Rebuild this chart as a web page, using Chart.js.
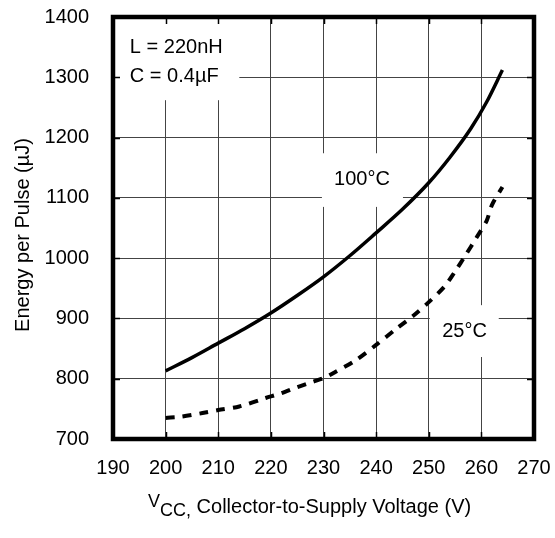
<!DOCTYPE html>
<html>
<head>
<meta charset="utf-8">
<script src="https://cdn.jsdelivr.net/npm/chart.js@4.4.1/dist/chart.umd.min.js"></script>
<style>
  html, body { margin: 0; padding: 0; background: #fff; }
  #wrap { width: 555px; height: 538px; }
</style>
</head>
<body>
<div id="wrap"><canvas id="energyChart" width="555" height="538"></canvas></div>
<script>
const FONT = "'Liberation Sans', Arial, Helvetica, sans-serif";

// energy per pulse at 100°C
const vcc100 = [200, 205, 210, 215, 220, 225, 230, 235, 240, 245, 250, 254, 258, 261, 264];
const energy100 = [813, 835, 859, 883, 909, 938, 969, 1004, 1042, 1081, 1125, 1167, 1215, 1259, 1312];

// energy per pulse at 25°C
const vcc25 = [200, 203, 207, 210, 214, 219, 222, 225, 228, 230, 232, 236, 240, 244, 247, 250, 253, 255, 257, 259, 261, 262, 264];
const energy25 = [735, 737, 743, 748, 754, 768, 776, 786, 795, 801, 810, 830, 856, 884, 904, 927, 953, 978, 1005, 1033, 1062, 1088, 1118];

const xTicks = [190, 200, 210, 220, 230, 240, 250, 260, 270];
const yTicks = [700, 800, 900, 1000, 1100, 1200, 1300, 1400];

const toPoints = (xs, ys) => xs.map((x, i) => ({ x, y: ys[i] }));

// text blocks inside the plot, each sitting on a white patch that hides the grid
const notes = [
  { box: [190, 214, 1262, 1400], align: 'left', lines: [
    { text: 'L = 220nH', x: 193.2, y: 1340 },
    { text: 'C = 0.4\u00B5F', x: 193.2, y: 1292 },
  ] },
  { box: [229.7, 245.1, 1085, 1174], align: 'center', lines: [
    { text: '100\u00B0C', x: 237.3, y: 1121 },
  ] },
  { box: [250.2, 263.3, 836, 922], align: 'center', lines: [
    { text: '25\u00B0C', x: 256.8, y: 869 },
  ] },
];

const notesPlugin = {
  id: 'notes',
  beforeDatasetsDraw(chart) {
    const { ctx, scales: { x, y } } = chart;
    ctx.save();
    notes.forEach((n) => {
      const [x0, x1, y0, y1] = n.box;
      const px0 = x.getPixelForValue(x0), px1 = x.getPixelForValue(x1);
      const py0 = y.getPixelForValue(y1), py1 = y.getPixelForValue(y0);
      ctx.fillStyle = '#fff';
      ctx.fillRect(px0, py0, px1 - px0, py1 - py0);
      ctx.fillStyle = '#000';
      ctx.font = `20px ${FONT}`;
      ctx.textAlign = n.align;
      ctx.textBaseline = 'alphabetic';
      n.lines.forEach((l) => {
        ctx.fillText(l.text, x.getPixelForValue(l.x), y.getPixelForValue(l.y));
      });
    });
    ctx.restore();
  },
};

const frameAndTitles = {
  id: 'frameAndTitles',
  afterDraw(chart) {
    const { ctx, chartArea: a, scales: { x, y } } = chart;
    ctx.save();
    // inward tick marks
    ctx.strokeStyle = '#000';
    ctx.lineWidth = 1.5;
    ctx.beginPath();
    xTicks.forEach((v) => {
      const px = Math.round(x.getPixelForValue(v)) + 0.5;
      ctx.moveTo(px, a.top); ctx.lineTo(px, a.top + 7);
      ctx.moveTo(px, a.bottom); ctx.lineTo(px, a.bottom - 7);
    });
    yTicks.forEach((v) => {
      const py = Math.round(y.getPixelForValue(v)) + 0.5;
      ctx.moveTo(a.left, py); ctx.lineTo(a.left + 7, py);
      ctx.moveTo(a.right, py); ctx.lineTo(a.right - 7, py);
    });
    ctx.stroke();

    // heavy frame
    ctx.lineWidth = 4.5;
    ctx.strokeRect(a.left, a.top, a.right - a.left, a.bottom - a.top);

    // y axis title
    ctx.fillStyle = '#000';
    ctx.font = `20px ${FONT}`;
    ctx.textAlign = 'center';
    ctx.textBaseline = 'middle';
    ctx.translate(23, 235);
    ctx.rotate(-Math.PI / 2);
    ctx.fillText('Energy per Pulse (\u00B5J)', 0, 0);
    ctx.setTransform(1, 0, 0, 1, 0, 0);

    // x axis title with subscripted CC
    ctx.textAlign = 'left';
    ctx.textBaseline = 'alphabetic';
    let cx = 148;
    ctx.font = `18px ${FONT}`;
    ctx.fillText('V', cx, 507);
    cx += ctx.measureText('V').width;
    ctx.fillText('CC,', cx, 516);
    cx += ctx.measureText('CC,').width;
    ctx.font = `20px ${FONT}`;
    ctx.fillText(' Collector-to-Supply Voltage (V)', cx, 513);
    ctx.restore();
  },
};

// fixed axis sizes, no extra room for overhanging tick labels
const fitX = (s) => { s.height = 99; s.paddingLeft = 0; s.paddingRight = 0; };
const fitY = (s) => { s.width = 113; s.paddingTop = 0; s.paddingBottom = 0; };

new Chart(document.getElementById('energyChart'), {
  type: 'line',
  data: {
    datasets: [
      {
        label: '100\u00B0C',
        data: toPoints(vcc100, energy100),
        borderColor: '#000',
        borderWidth: 3.5,
        pointRadius: 0,
        cubicInterpolationMode: 'monotone',
      },
      {
        label: '25\u00B0C',
        data: toPoints(vcc25, energy25),
        borderColor: '#000',
        borderWidth: 4,
        borderDash: [9, 8],
        pointRadius: 0,
        tension: 0.3,
      },
    ],
  },
  options: {
    responsive: false,
    animation: false,
    events: [],
    layout: { padding: { left: 0, top: 17, right: 21, bottom: 0 } },
    plugins: {
      legend: { display: false },
      tooltip: { enabled: false },
    },
    scales: {
      x: {
        type: 'linear',
        min: 190,
        max: 270,
        afterFit: fitX,
        afterBuildTicks: (s) => { s.ticks = xTicks.map((v) => ({ value: v })); },
        grid: { color: '#444', lineWidth: 1, drawTicks: false },
        border: { display: false },
        ticks: { color: '#000', font: { size: 20, family: FONT }, padding: 17, maxRotation: 0, callback: (v) => String(v) },
      },
      y: {
        type: 'linear',
        min: 700,
        max: 1400,
        afterFit: fitY,
        afterBuildTicks: (s) => { s.ticks = yTicks.map((v) => ({ value: v })); },
        grid: { color: '#444', lineWidth: 1, drawTicks: false },
        border: { display: false },
        ticks: { color: '#000', font: { size: 20, family: FONT }, padding: 24, callback: (v) => String(v) },
      },
    },
  },
  plugins: [notesPlugin, frameAndTitles],
});
</script>
</body>
</html>
